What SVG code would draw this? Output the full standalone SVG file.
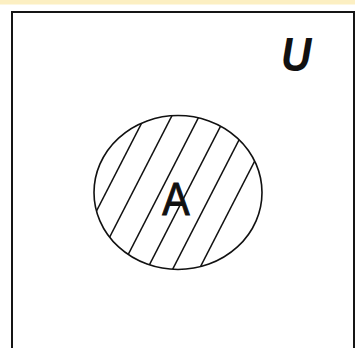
<svg xmlns="http://www.w3.org/2000/svg" width="355" height="348" viewBox="0 0 355 348">
<style>
.hatch{stroke:#111;stroke-width:1.5;fill:none}
.lbl{font-family:"Liberation Sans",Arial,sans-serif;fill:#111}
</style>
<defs>
<clipPath id="clipA"><ellipse cx="178" cy="192.5" rx="84" ry="77"/></clipPath>
</defs>
<rect x="0" y="0" width="355" height="348" fill="#ffffff"/>
<rect x="0" y="0" width="355" height="4.5" fill="#fcefc2"/>
<g id="universe">
<rect x="12" y="12" width="342" height="350" fill="#ffffff" stroke="#151515" stroke-width="2"/>
<text class="lbl" transform="translate(281,71) scale(1,1.15)" font-size="42" font-weight="bold" font-style="italic">U</text>
</g>
<g id="setA">
<g clip-path="url(#clipA)">
<line class="hatch" x1="153.5" y1="100" x2="56" y2="290"/>
<line class="hatch" x1="180" y1="100" x2="82.5" y2="290"/>
<line class="hatch" x1="207.5" y1="100" x2="110" y2="290"/>
<line class="hatch" x1="234" y1="100" x2="136.5" y2="290"/>
<line class="hatch" x1="259.5" y1="100" x2="162" y2="290"/>
<line class="hatch" x1="286" y1="100" x2="188.5" y2="290"/>
</g>
<ellipse cx="178" cy="192.5" rx="84" ry="77" fill="none" stroke="#111" stroke-width="1.6"/>
<text class="lbl" transform="translate(176,215) scale(1,1.13)" font-size="41" text-anchor="middle" stroke="#111" stroke-width="0.9">A</text>
</g>
<g id="connectors"/>
</svg>
